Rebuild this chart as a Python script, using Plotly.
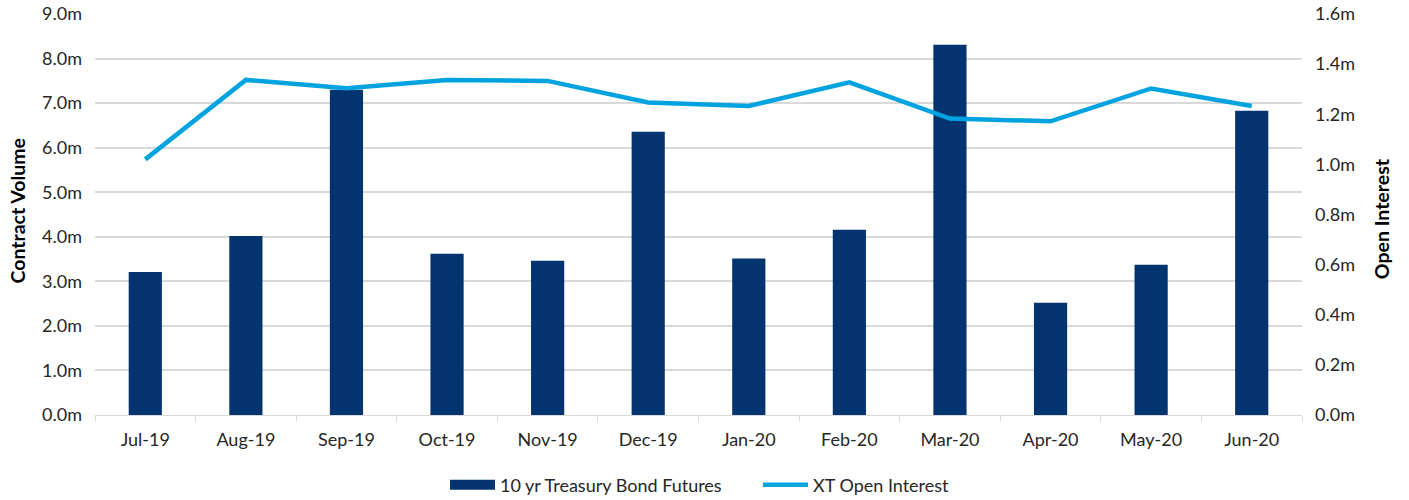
import plotly.graph_objects as go

months = ["Jul-19", "Aug-19", "Sep-19", "Oct-19", "Nov-19", "Dec-19",
          "Jan-20", "Feb-20", "Mar-20", "Apr-20", "May-20", "Jun-20"]
volume_m = [3.21, 4.02, 7.30, 3.62, 3.46, 6.36, 3.51, 4.16, 8.31, 2.52, 3.37, 6.83]
open_interest_m = [1.02, 1.337, 1.304, 1.337, 1.333, 1.247, 1.233, 1.327, 1.183, 1.172, 1.303, 1.233]

left_ticks = [0, 1, 2, 3, 4, 5, 6, 7, 8, 9]
right_ticks = [0, 0.2, 0.4, 0.6, 0.8, 1.0, 1.2, 1.4, 1.6]

FONT = "Lato, 'Open Sans', sans-serif"
GRID = "#d9d9d9"
BAR_COLOR = "#03346f"
LINE_COLOR = "#00a3e0"

fig = go.Figure()

fig.add_trace(go.Bar(
    x=months,
    y=volume_m,
    name="10 yr Treasury Bond Futures",
    marker=dict(color=BAR_COLOR, line=dict(width=0)),
    showlegend=False,
))

# legend entry only: wide rectangle swatch like the original
fig.add_trace(go.Scatter(
    x=[months[0]],
    y=[None],
    name="10 yr Treasury Bond Futures",
    mode="lines",
    line=dict(color=BAR_COLOR, width=11),
))

fig.add_trace(go.Scatter(
    x=months,
    y=open_interest_m,
    name="XT Open Interest",
    mode="lines",
    line=dict(color=LINE_COLOR, width=4.5),
    yaxis="y2",
))

fig.update_layout(
    width=1409,
    height=500,
    plot_bgcolor="white",
    paper_bgcolor="white",
    font=dict(family=FONT, size=18, color="#262626"),
    margin=dict(l=95, r=107, t=14, b=85, autoexpand=False),
    bargap=0.67,
    showlegend=True,
    legend=dict(
        orientation="h",
        x=0.29, xanchor="left",
        y=-0.175, yanchor="middle",
        font=dict(size=18),
        itemwidth=45,
        entrywidth=253,
    ),
    xaxis=dict(
        type="category",
        automargin=False,
        showgrid=False,
        showline=True,
        linecolor=GRID,
        ticks="outside",
        tickson="boundaries",
        ticklen=6,
        tickcolor=GRID,
        ticklabelstandoff=8,
    ),
    yaxis=dict(
        range=[0, 9],
        automargin=False,
        tickvals=left_ticks,
        ticktext=[f"{v:.1f}m" for v in left_ticks],
        showgrid=True,
        gridcolor=GRID,
        gridwidth=1.5,
        zeroline=False,
        ticks="",
        ticklabelstandoff=12,
        ticklabeloverflow="allow",
    ),
    yaxis2=dict(
        overlaying="y",
        side="right",
        automargin=False,
        range=[0, 1.6],
        tickvals=right_ticks,
        ticktext=[f"{v:.1f}m" for v in right_ticks],
        showgrid=False,
        zeroline=False,
        ticks="",
        ticklabelstandoff=12,
        ticklabeloverflow="allow",
    ),
    annotations=[
        dict(text="<b>Contract Volume</b>", xref="paper", yref="paper",
             x=-0.0646, xanchor="center", y=0.51, yanchor="middle",
             textangle=-90, showarrow=False, font=dict(size=19.5, color="#000")),
        dict(text="<b>Open Interest</b>", xref="paper", yref="paper",
             x=1.066, xanchor="center", y=0.49, yanchor="middle",
             textangle=-90, showarrow=False, font=dict(size=19.5, color="#000")),
    ],
)

# drop the browser's default body margin so the figure sits at the page corner
fig.write_html(
    "out.html",
    config={"displayModeBar": False},
    post_script="document.body.style.margin = '0';",
)
